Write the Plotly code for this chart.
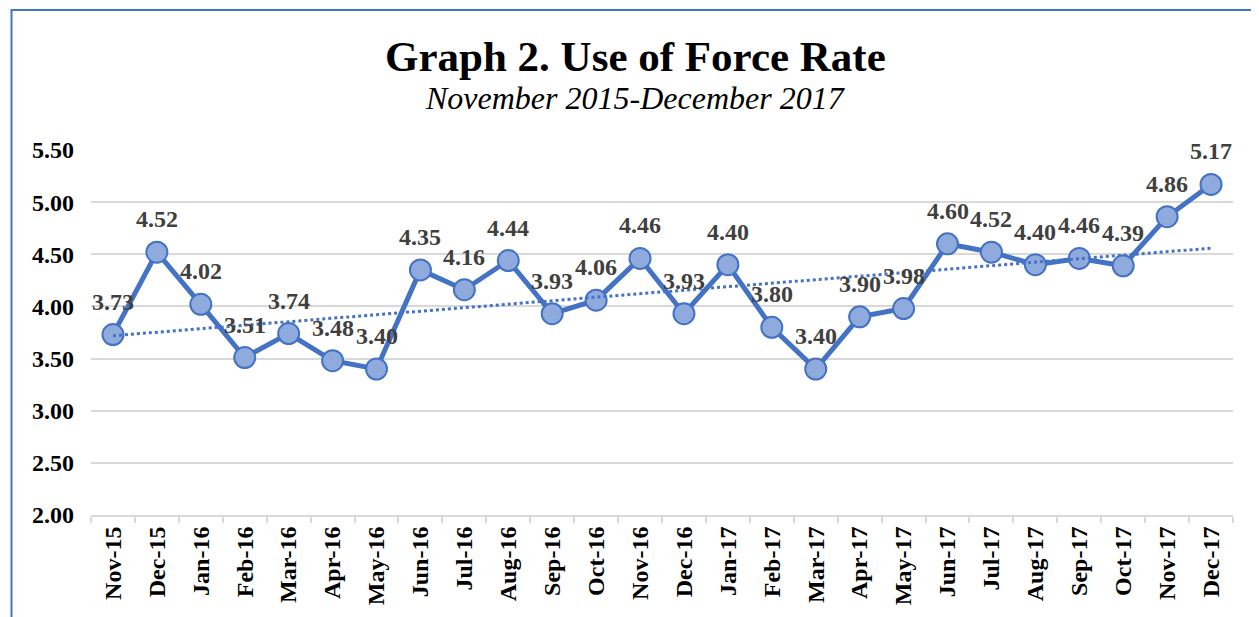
import numpy as np
import plotly.graph_objects as go

months = ["Nov-15", "Dec-15", "Jan-16", "Feb-16", "Mar-16", "Apr-16", "May-16", "Jun-16",
          "Jul-16", "Aug-16", "Sep-16", "Oct-16", "Nov-16", "Dec-16", "Jan-17", "Feb-17",
          "Mar-17", "Apr-17", "May-17", "Jun-17", "Jul-17", "Aug-17", "Sep-17", "Oct-17",
          "Nov-17", "Dec-17"]
rates = [3.73, 4.52, 4.02, 3.51, 3.74, 3.48, 3.40, 4.35, 4.16, 4.44, 3.93, 4.06, 4.46,
         3.93, 4.40, 3.80, 3.40, 3.90, 3.98, 4.60, 4.52, 4.40, 4.46, 4.39, 4.86, 5.17]
y_ticks = [2.0, 2.5, 3.0, 3.5, 4.0, 4.5, 5.0, 5.5]

BLUE = "#4472C4"
FONT = "Liberation Serif"

# linear trendline (least squares fit, as Excel does)
idx = np.arange(len(rates))
slope, intercept = np.polyfit(idx, rates, 1)
trend = slope * idx + intercept

fig = go.Figure()
fig.add_trace(go.Scatter(
    x=months, y=rates, mode="lines+markers",
    line=dict(color=BLUE, width=5),
    marker=dict(size=21, color="#8FAADC", line=dict(color=BLUE, width=2)),
    showlegend=False, cliponaxis=False,
))
fig.add_trace(go.Scatter(
    x=months, y=trend, mode="lines",
    line=dict(color=BLUE, width=3, dash="dot"),
    showlegend=False,
))

annotations = []
for m, v in zip(months, rates):
    annotations.append(dict(
        x=m, y=v, xref="x", yref="y", text=f"{v:.2f}", showarrow=False,
        yshift=33, yanchor="middle",
        font=dict(family=FONT, size=24, color="#404040", weight="bold"),
    ))
annotations.append(dict(
    x=0.477, y=1.2548, xref="paper", yref="paper", showarrow=False,
    xanchor="center", yanchor="middle",
    text="<b>Graph 2. Use of Force Rate</b>",
    font=dict(family=FONT, size=43, color="#000000"),
))
annotations.append(dict(
    x=0.477, y=1.1425, xref="paper", yref="paper", showarrow=False,
    xanchor="center", yanchor="middle",
    text="<i>November 2015-December 2017</i>",
    font=dict(family=FONT, size=32, color="#000000"),
))

# the page body has an 8px default margin; size the figure so it fills the window
fig.update_layout(
    width=1251, height=609,
    margin=dict(l=83, r=26, t=142, b=102),
    paper_bgcolor="white", plot_bgcolor="white",
    annotations=annotations,
    shapes=[dict(type="rect", xref="paper", yref="paper",
                 x0=-0.0696, x1=1.03, y0=-0.3, y1=1.3836,
                 line=dict(color=BLUE, width=2), fillcolor="rgba(0,0,0,0)", layer="below")],
)
fig.update_xaxes(
    type="category", tickangle=-90, automargin=False,
    tickfont=dict(family=FONT, size=24, color="#000000", weight="bold"),
    showgrid=False, showline=True, linecolor="#D9D9D9", linewidth=2,
    ticks="outside", tickson="boundaries", ticklen=6, tickcolor="#D9D9D9", tickwidth=2,
    range=[-0.5, len(months) - 0.5],
)
fig.update_yaxes(
    range=[2.0, 5.5], tickvals=y_ticks, ticktext=[f"{t:.2f}" for t in y_ticks],
    automargin=False,
    tickfont=dict(family=FONT, size=24, color="#000000", weight="bold"),
    showgrid=True, gridcolor="#D9D9D9", gridwidth=2, zeroline=False, showline=False,
    ticks="", ticklabelstandoff=16,
)

fig.write_html("out.html")
